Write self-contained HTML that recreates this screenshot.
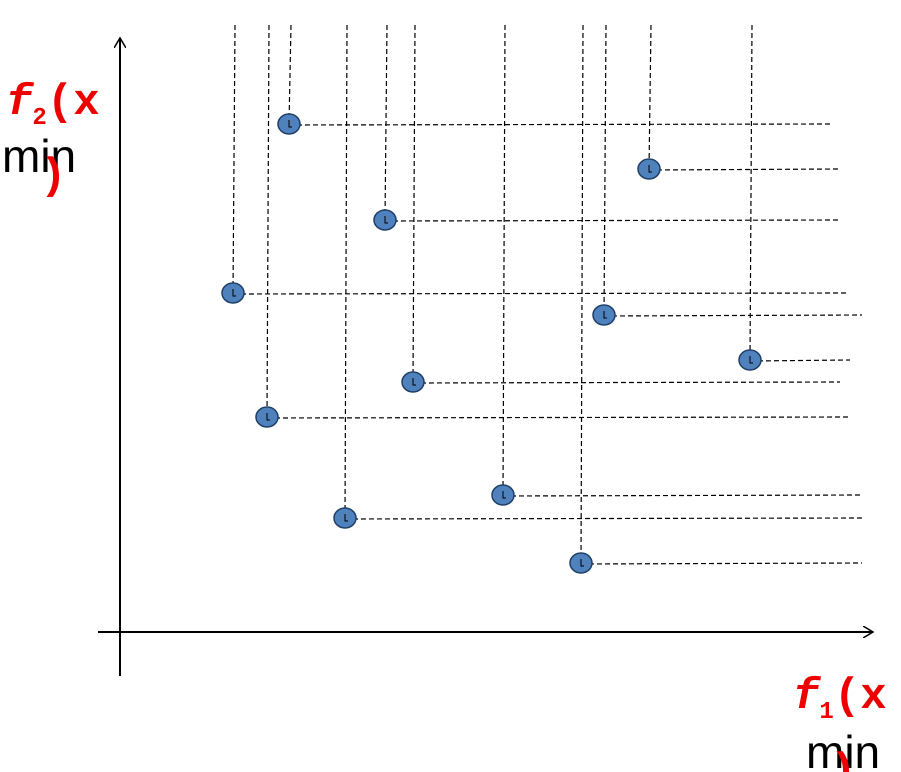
<!DOCTYPE html>
<html><head><meta charset="utf-8"><style>
html,body{margin:0;padding:0;background:#fff;width:901px;height:772px;overflow:hidden}
svg{display:block}
</style></head><body>
<svg id="chart" width="901" height="772" viewBox="0 0 901 772" xmlns="http://www.w3.org/2000/svg">
<defs>
<marker id="arr" markerWidth="12" markerHeight="12" refX="10" refY="6" orient="auto" markerUnits="userSpaceOnUse">
<path d="M0,0 L10,6 L0,12" fill="none" stroke="#000" stroke-width="1.5"/>
</marker>
</defs>
<g id="guides"></g>
<line x1="98" y1="632" x2="873" y2="632" stroke="#000" stroke-width="2" marker-end="url(#arr)"/>
<line x1="120" y1="676" x2="120" y2="38" stroke="#000" stroke-width="2" marker-end="url(#arr)"/>
<g id="points"></g>
<g>
<text x="2" y="172" font-family="Liberation Sans, sans-serif" font-size="46" fill="#000">min</text>
<text x="6" y="114" font-family="Liberation Mono, monospace" font-weight="bold" font-size="44" fill="#e00"><tspan font-style="italic">f</tspan><tspan font-size="24" dy="10">2</tspan><tspan dy="-10">(x</tspan></text>
<text x="40" y="188" font-family="Liberation Mono, monospace" font-weight="bold" font-size="44" fill="#e00">)</text>
</g>
<g>
<text x="806" y="768" font-family="Liberation Sans, sans-serif" font-size="46" fill="#000">min</text>
<text x="793" y="708" font-family="Liberation Mono, monospace" font-weight="bold" font-size="44" fill="#e00"><tspan font-style="italic">f</tspan><tspan font-size="24" dy="10">1</tspan><tspan dy="-10">(x</tspan></text>
<text x="830" y="783" font-family="Liberation Mono, monospace" font-weight="bold" font-size="44" fill="#e00">)</text>
</g>
</svg>
<script>
const f1 = [169, 529, 265, 113, 484, 630, 293, 147, 383, 225, 461];
const f2 = [508, 463, 412, 339, 317, 272, 250, 215, 137, 114, 69];
const lineEnd = [830, 840, 840, 848, 862, 850, 840, 850, 860, 862, 862];
const NS = 'http://www.w3.org/2000/svg';
const xs = v => 120 + v;
const ys = v => 632 - v;
const g = document.getElementById('guides');
const p = document.getElementById('points');
function mk(tag, attrs, parent){const e=document.createElementNS(NS,tag);for(const k in attrs)e.setAttribute(k,attrs[k]);parent.appendChild(e);return e;}
f1.forEach((v,i)=>{
  const cx=xs(v), cy=ys(f2[i]);
  const vl=mk('line',{x1:cx+2,y1:25,x2:cx,y2:cy,stroke:'#000','stroke-width':1.2,'stroke-dasharray':'5,3'},g);
  
  
  const hl=mk('line',{x1:cx,y1:cy+1,x2:lineEnd[i],y2:cy,stroke:'#000','stroke-width':1.2,'stroke-dasharray':'5,3'},g);
  
  
  const c=mk('ellipse',{cx:cx,cy:cy,rx:11,ry:10,fill:'#4f81bd',stroke:'#1f3f66','stroke-width':1.5},p);
  
  
  const m=mk('path',{d:`M${cx} ${cy-4} V${cy+3} H${cx+3}`,fill:'none',stroke:'#000','stroke-width':1},p);
  
  
});
</script>
</body></html>
